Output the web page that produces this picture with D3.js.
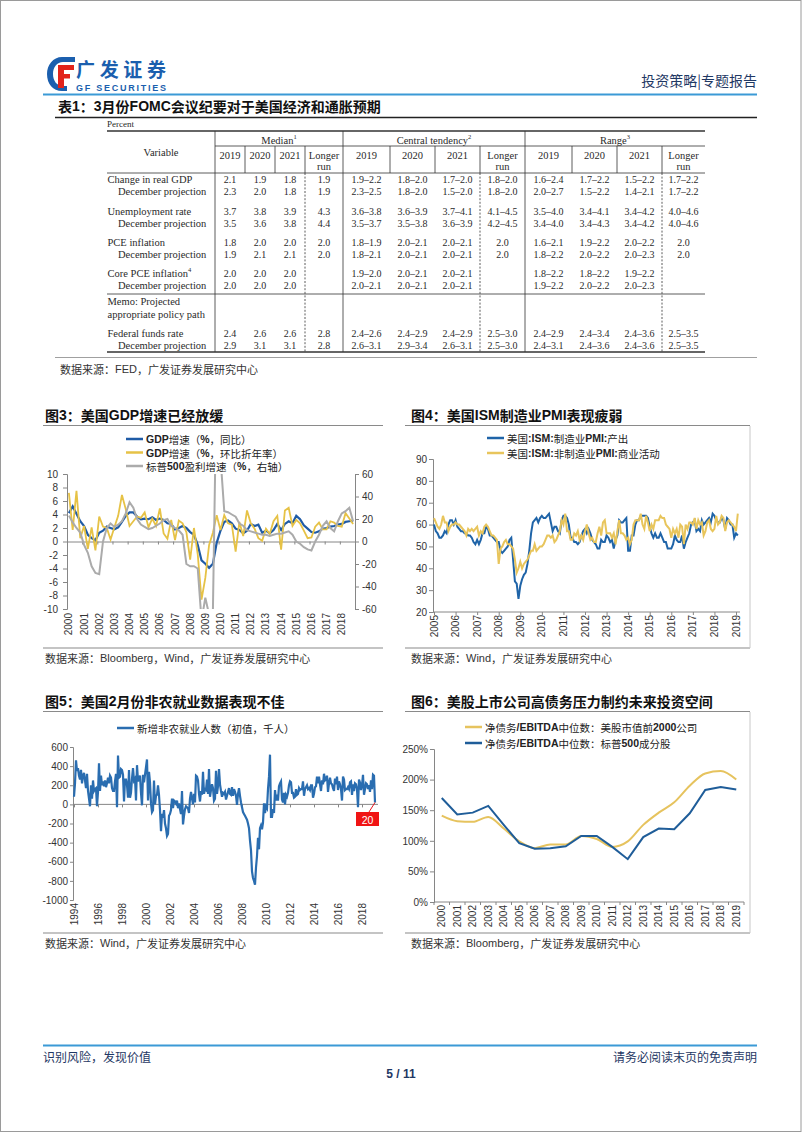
<!DOCTYPE html>
<html><head><meta charset="utf-8">
<script src="https://cdn.jsdelivr.net/npm/d3@7"></script>
<style>body{margin:0;background:#fff}svg{display:block}</style>
</head><body>
<svg id="page" width="802" height="1133"></svg>
<script>
// ---------------- DATA ----------------
const tblYears = ["2019", "2020", "2021"];
const tblLabels = ["Change in real GDP","December projection","Unemployment rate","December projection","PCE inflation","December projection","Core PCE inflation","December projection","Federal funds rate","December projection"];
const tblMedian = [
  ["2.1","1.9","1.8","1.9"],["2.3","2.0","1.8","1.9"],
  ["3.7","3.8","3.9","4.3"],["3.5","3.6","3.8","4.4"],
  ["1.8","2.0","2.0","2.0"],["1.9","2.1","2.1","2.0"],
  ["2.0","2.0","2.0",""],["2.0","2.0","2.0",""],
  ["2.4","2.6","2.6","2.8"],["2.9","3.1","3.1","2.8"]];
const tblCentral = [
  ["1.9–2.2","1.8–2.0","1.7–2.0","1.8–2.0"],["2.3–2.5","1.8–2.0","1.5–2.0","1.8–2.0"],
  ["3.6–3.8","3.6–3.9","3.7–4.1","4.1–4.5"],["3.5–3.7","3.5–3.8","3.6–3.9","4.2–4.5"],
  ["1.8–1.9","2.0–2.1","2.0–2.1","2.0"],["1.8–2.1","2.0–2.1","2.0–2.1","2.0"],
  ["1.9–2.0","2.0–2.1","2.0–2.1",""],["2.0–2.1","2.0–2.1","2.0–2.1",""],
  ["2.4–2.6","2.4–2.9","2.4–2.9","2.5–3.0"],["2.6–3.1","2.9–3.4","2.6–3.1","2.5–3.0"]];
const tblRange = [
  ["1.6–2.4","1.7–2.2","1.5–2.2","1.7–2.2"],["2.0–2.7","1.5–2.2","1.4–2.1","1.7–2.2"],
  ["3.5–4.0","3.4–4.1","3.4–4.2","4.0–4.6"],["3.4–4.0","3.4–4.3","3.4–4.2","4.0–4.6"],
  ["1.6–2.1","1.9–2.2","2.0–2.2","2.0"],["1.8–2.2","2.0–2.2","2.0–2.3","2.0"],
  ["1.8–2.2","1.8–2.2","1.9–2.2",""],["1.9–2.2","2.0–2.2","2.0–2.3",""],
  ["2.4–2.9","2.4–3.4","2.4–3.6","2.5–3.5"],["2.4–3.1","2.4–3.6","2.4–3.6","2.5–3.5"]];

// Fig 3 (quarterly 2000Q1-2018Q4)
const gdpYears = ["2000","2001","2002","2003","2004","2005","2006","2007","2008","2009","2010","2011","2012","2013","2014","2015","2016","2017","2018"];
const gdpYoY = [4.2,5.2,4.1,3.0, 2.3,1.0,0.5,0.2, 1.3,1.6,2.2,2.0, 1.8,2.1,2.9,3.8, 4.3,4.3,3.7,3.3, 3.4,3.3,3.6,3.2, 3.4,3.2,2.7,2.6, 1.8,2.0,2.3,2.0, 1.4,1.0,-0.5,-2.8, -3.3,-3.9,-3.3,-0.2, 1.6,2.9,3.1,2.7, 1.9,1.7,1.2,1.6, 2.6,2.3,2.5,1.3, 1.6,1.2,1.7,2.6, 1.7,2.6,3.0,2.7, 3.8,3.3,2.4,1.9, 1.4,1.3,1.5,1.9, 2.0,2.2,2.3,2.5, 2.6,2.9,3.0,3.1];
const gdpQoQ = [7.2,1.7,7.5,0.5, 2.3,-1.1,2.1,-1.3, 3.7,2.2,2.0,0.3, 2.1,3.8,6.9,4.8, 2.3,3.0,3.7,3.5, 4.3,2.1,3.4,2.3, 4.9,1.2,0.4,3.2, 0.2,3.1,2.7,1.4, -2.7,2.0,-1.9,-8.6, -5.4,-0.5,1.3,3.9, 1.7,3.9,2.7,2.5, -1.5,2.9,0.8,4.6, 2.7,1.9,0.5,0.1, 1.9,1.1,3.0,3.8, -1.2,4.6,5.0,2.3, 3.2,2.7,1.6,0.5, 0.6,2.2,2.8,1.8, 1.8,3.0,2.8,2.3, 2.2,4.2,3.4,2.6];
const spxEps = [23,17,12,8, -3,-10,-22,-28, -29,0,12,16, 13,15,18,25, 35,30,20,15, 13,11,12,14, 16,19,20,14, 12,10,6,-20, -22,-22,-24,-70, -50,-65,-62,150, 75,27,26,24, 22,16,14,10, 9,8,7,6, 6,5,6,7, 7,8,9,6, 0,-2,-5,-7, -8,0,6,14, 18,12,9,18, 25,27,30,18];

// Fig 4 (monthly 2005-01 .. 2019-02)
const pmiYears = ["2005","2006","2007","2008","2009","2010","2011","2012","2013","2014","2015","2016","2017","2018","2019"];
const ismMfgOutput = [
  60,57,56,54,54,55,57,56,60,62,62,60,
  62,59,58,57,57,56,56,55,55,54,52,51,
  53,51,53,56,56,59,58,55,55,54,53,52,
  52,48,47,48,49,50,53,54,44,34,33,26,
  32,35,37,38,42,48,56,61,62,63,61,63,
  64,63,63,64,65,61,57,59,59,57,56,62,
  64,64,63,60,54,54,52,52,51,52,55,57,
  58,56,58,56,53,52,51,49,49,53,52,52,
  55,54,52,53,49,53,55,62,61,61,62,63,
  48,48,55,55,60,62,62,64,64,64,64,63,
  59,56,54,56,54,54,56,54,52,52,49,49,
  49,51,55,53,52,52,55,49,52,54,56,60,
  61,62,57,58,57,62,60,61,62,63,61,65,
  64,62,61,61,63,62,58,63,62,60,60,54,
  56,55];
const ismNonMfg = [
  63,61,59,58,60,64,61,61,57,59,60,60,
  61,60,60,59,58,57,55,58,57,58,57,58,
  59,55,57,56,59,60,59,57,55,55,54,53,
  42,49,50,52,53,51,51,50,49,44,38,40,
  43,40,42,43,44,46,48,48,51,48,49,50,
  50,51,53,55,55,54,55,52,53,55,57,62,
  60,65,57,57,53,53,56,55,57,53,55,53,
  57,60,56,53,54,52,52,56,59,55,61,62,
  56,56,56,54,56,51,57,62,56,56,55,53,
  54,51,53,60,62,62,62,65,60,58,64,61,
  57,60,58,62,62,62,64,63,63,60,59,58,
  54,58,56,58,54,60,59,51,60,58,61,61,
  60,63,58,62,60,61,55,57,61,62,58,57,
  58,64,60,61,64,63,57,61,62,61,60,59,
  57,65];

// Fig 5 (monthly 1994-01 .. 2019-02)
const nfpYears = ["1994","1996","1998","2000","2002","2004","2006","2008","2010","2012","2014","2016","2018"];
const nfpChange = [
  80,220,460,350,380,300,260,360,220,300,330,250,
  170,320,140,60,-20,200,60,250,140,160,170,-20,
  130,430,140,300,200,240,190,250,180,220,280,220,
  300,280,170,140,140,240,320,-30,510,280,290,370,
  360,310,30,260,260,200,70,360,70,120,270,380,
  250,270,40,410,240,270,300,120,-10,310,230,310,
  390,470,40,340,230,10,-80,-60,250,0,90,100,
  200,100,-60,-280,-100,-140,-60,-200,-250,-330,-310,-120,
  -100,-60,60,-40,40,30,10,40,-40,10,-50,-100,
  140,-210,-120,-50,-20,-30,-40,-90,60,130,60,0,
  110,20,300,290,250,110,30,140,100,340,110,160,
  150,260,110,370,80,150,210,170,40,60,350,110,
  190,370,210,140,80,120,110,130,50,90,130,170,
  110,100,180,90,160,130,90,-5,110,170,90,20,
  -30,-80,-100,-120,-140,-160,-200,-250,-380,-480,-700,-770,
  -800,-840,-660,-540,-350,-470,-250,-220,-260,-190,10,-90,
  -20,-40,160,290,520,-130,-130,-50,-90,150,40,100,
  40,190,220,240,50,20,120,0,100,80,120,200,
  240,230,120,120,70,80,160,100,110,170,150,160,
  160,240,90,160,180,200,160,170,150,200,200,70,
  110,180,190,290,220,290,210,140,250,210,320,250,
  260,300,130,220,280,220,210,170,140,270,210,290,
  150,240,210,160,40,290,260,150,160,160,180,160,
  230,240,100,210,140,220,210,160,-30,260,230,150,
  200,310,100,160,220,210,160,200,130,250,160,310,
  300,20];

// Fig 6 (annual)
const debtYears = ["2000","2001","2002","2003","2004","2005","2006","2007","2008","2009","2010","2011","2012","2013","2014","2015","2016","2017","2018","2019"];
const debtTop2000 = [141,132,131,139,120,99,88,94,94,108,103,90,99,126,146,163,190,210,214,200];
const debtSpx500 = [170,143,146,157,126,96,87,88,91,108,108,90,70,106,120,119,145,183,188,184];

// ---------------- DRAWING ----------------
const SANS = "'Liberation Sans', Arial, 'Noto Sans CJK SC', sans-serif";
const CJK = "'Noto Sans CJK SC', 'Liberation Sans', sans-serif";
const SERIF = "'Liberation Serif', 'DejaVu Serif', serif";
const svg = d3.select("#page");

function mixed(g, x, y, str, o) {
  o = o || {};
  const t = g.append("text").attr("x", x).attr("y", y)
    .attr("font-size", o.size || 11).attr("fill", o.fill || "#222")
    .attr("text-anchor", o.anchor || "start").attr("dominant-baseline", "central");
  str.split(/([\x20-\x7E]+)/).filter(s => s.length).forEach(p => {
    const latin = /^[\x20-\x7E]+$/.test(p);
    t.append("tspan").text(p).attr("font-family", latin ? SANS : CJK)
      .attr("font-weight", (latin && o.boldLatin) ? "bold" : (o.weight || "normal"));
  });
  return t;
}
function line(g, x1, y1, x2, y2, c, w, dash) {
  const l = g.append("line").attr("x1", x1).attr("y1", y1).attr("x2", x2).attr("y2", y2)
    .attr("stroke", c).attr("stroke-width", w);
  if (dash) l.attr("stroke-dasharray", dash);
  return l;
}
function styleAxis(g) {
  g.selectAll("path.domain").attr("stroke", "#868686");
  g.selectAll(".tick line").attr("stroke", "#868686");
  g.selectAll("text").attr("font-family", SANS).attr("font-size", 10).attr("fill", "#333");
}
function rotLabels(g, items, y) {
  items.forEach(d => {
    g.append("text").attr("transform", `translate(${d.x},${y}) rotate(-90)`)
      .attr("text-anchor", "end").attr("dy", "0.35em")
      .attr("font-family", SANS).attr("font-size", 10).attr("fill", "#333").text(d.t);
  });
}
function legendRow(g, x0, y, color, label, w) {
  line(g, x0, y, x0 + 17, y, color, w || 2.5);
  mixed(g, x0 + 20, y, label, {size: 10.5, boldLatin: true, fill: "#222"});
}
const plain = d => String(d).replace("\u2212", "-");

// page border
svg.append("rect").attr("x", 0.5).attr("y", 0.5).attr("width", 800.5).attr("height", 1131)
  .attr("fill", "none").attr("stroke", "#9a9a9a");

// ---- header ----
const hdr = svg.append("g");
hdr.append("path").attr("d", "M75,57 L62,57 C53,57 47,65 47,74 C47,84 53,91 62,91 L67,91 L67,86 L63,86 C57,86 53,81 53,74 C53,67 57,62 63,62 L75,62 Z").attr("fill", "#1b5fae");
hdr.append("rect").attr("x", 58).attr("y", 65).attr("width", 6).attr("height", 23).attr("fill", "#e2231a");
hdr.append("rect").attr("x", 58).attr("y", 65).attr("width", 16).attr("height", 5).attr("fill", "#e2231a");
hdr.append("rect").attr("x", 58).attr("y", 74).attr("width", 12).attr("height", 4.5).attr("fill", "#e2231a");
hdr.append("text").attr("x", 76).attr("y", 77).attr("font-family", CJK).attr("font-weight", "bold")
  .attr("font-size", 19).attr("fill", "#1b5fae").attr("textLength", 90).text("广发证券");
hdr.append("text").attr("x", 76).attr("y", 91).attr("font-family", SANS).attr("font-weight", "bold")
  .attr("font-size", 9).attr("fill", "#1b5fae").attr("textLength", 90).text("GF SECURITIES");
hdr.append("text").attr("x", 757).attr("y", 80).attr("text-anchor", "end").attr("dominant-baseline", "central")
  .attr("font-family", CJK).attr("font-size", 14).attr("fill", "#1f3864").text("投资策略|专题报告");
line(hdr, 43, 94.5, 757, 94.5, "#3b9ad6", 2);

// ---- table ----
mixed(svg, 58, 106, "表1：3月份FOMC会议纪要对于美国经济和通胀预期", {size: 14, weight: "bold", boldLatin: true, fill: "#111"});
line(svg, 55, 117.5, 757, 117.5, "#222", 1.5);

const tbl = svg.append("g");
const TL = 107, TR = 705;
const groups = [
  {name: "Median", sup: "1", edges: [215, 245, 275, 305, 343], vals: tblMedian},
  {name: "Central tendency", sup: "2", edges: [343, 390, 435, 480, 525], vals: tblCentral},
  {name: "Range", sup: "3", edges: [525, 572, 617, 662, 705], vals: tblRange}];
const rowY = [179, 191.5, 211.5, 223.5, 242, 254, 273, 285.5, 333, 345];
const TC = "#2a2a2a";
function ttext(x, y, s, anchor, size) {
  return tbl.append("text").attr("x", x).attr("y", y).attr("text-anchor", anchor || "middle")
    .attr("dominant-baseline", "central").attr("font-family", SERIF)
    .attr("font-size", size || 10.5).attr("fill", TC).text(s);
}
ttext(107, 124, "Percent", "start", 9);
line(tbl, TL, 131, TR, 131, "#333", 1.3);
line(tbl, 215, 146, TR, 146, "#333", 0.8);
line(tbl, TL, 173, TR, 173, "#333", 0.8);
line(tbl, TL, 294, TR, 294, "#333", 0.8);
line(tbl, TL, 352, TR, 352, "#333", 1.3);
[215, 343, 525].forEach(x => line(tbl, x, 131, x, 352, "#333", 0.8));
ttext(161, 152, "Variable");
groups.forEach(g => {
  const t = ttext((g.edges[0] + g.edges[4]) / 2, 140, g.name);
  t.append("tspan").attr("font-size", 6.5).attr("dy", -4).text(g.sup);
  [1, 2, 3].forEach(k => line(tbl, g.edges[k], 146, g.edges[k], 173, "#333", 0.8));
  line(tbl, g.edges[3], 173, g.edges[3], 352, "#333", 0.8, "2,1.6");
  tblYears.forEach((yr, k) => ttext((g.edges[k] + g.edges[k + 1]) / 2, 155, yr));
  ttext((g.edges[3] + g.edges[4]) / 2, 155, "Longer");
  ttext((g.edges[3] + g.edges[4]) / 2, 166.5, "run");
  g.vals.forEach((row, r) => row.forEach((v, k) => {
    if (v) ttext((g.edges[k] + g.edges[k + 1]) / 2, rowY[r], v, "middle", 10);
  }));
});
tblLabels.forEach((s, r) => {
  const dec = s.startsWith("December");
  const t = ttext(dec ? 118 : 107.5, rowY[r], s, "start");
  if (s === "Core PCE inflation") t.append("tspan").attr("font-size", 6.5).attr("dy", -4).text("4");
});
ttext(107.5, 301, "Memo: Projected", "start");
ttext(107.5, 314, "appropriate policy path", "start");
line(svg, 55, 357.5, 757, 357.5, "#a0a0a0", 1);
mixed(svg, 60, 369, "数据来源：FED，广发证券发展研究中心", {size: 11, fill: "#333"});

// ---- chart frames ----
function frame(x0, x1, tx, ty, title, sy, src, rightBorder) {
  mixed(svg, tx, ty, title, {size: 14, weight: "bold", boldLatin: true, fill: "#111"});
  line(svg, x0, ty + 10.5, x1, ty + 10.5, "#8a8a8a", 1.2);
  line(svg, x0, sy - 10, x1, sy - 10, "#8a8a8a", 1.2);
  mixed(svg, tx, sy, src, {size: 11, fill: "#333"});
  if (rightBorder) line(svg, x1, ty + 11, x1, sy - 10, "#c8c8c8", 1);
}
frame(43, 383, 45, 415, "图3：美国GDP增速已经放缓", 658, "数据来源：Bloomberg，Wind，广发证券发展研究中心", false);
frame(405, 750, 411, 415, "图4：美国ISM制造业PMI表现疲弱", 658, "数据来源：Wind，广发证券发展研究中心", true);
frame(43, 383, 45, 701, "图5：美国2月份非农就业数据表现不佳", 943, "数据来源：Wind，广发证券发展研究中心", false);
frame(405, 750, 411, 701, "图6：美股上市公司高债务压力制约未来投资空间", 943, "数据来源：Bloomberg，广发证券发展研究中心", true);

// ---- Fig 3 ----
(function () {
  const g = svg.append("g");
  const xq = d3.scaleLinear().domain([0, 76]).range([67, 355]);
  const yL = d3.scaleLinear().domain([-10, 10]).range([609, 474]);
  const yR = d3.scaleLinear().domain([-60, 60]).range([609, 474]);
  g.append("clipPath").attr("id", "c3").append("rect").attr("x", 67).attr("y", 474).attr("width", 288).attr("height", 135);
  const aL = g.append("g").attr("transform", "translate(67,0)")
    .call(d3.axisLeft(yL).tickValues(d3.range(-10, 11, 2)).tickSize(4).tickPadding(5).tickFormat(plain));
  styleAxis(aL);
  const aR = g.append("g").attr("transform", "translate(355,0)")
    .call(d3.axisRight(yR).tickValues(d3.range(-60, 61, 20)).tickSize(4).tickPadding(3).tickFormat(plain));
  styleAxis(aR);
  const aX = g.append("g").attr("transform", `translate(0,${yL(0)})`)
    .call(d3.axisBottom(xq).tickValues(d3.range(0, 77, 4)).tickSize(3).tickFormat(""));
  styleAxis(aX);
  rotLabels(g, gdpYears.map((t, k) => ({t, x: xq(4 * k + 0.5)})), 613);
  const pl = g.append("g").attr("clip-path", "url(#c3)");
  const mk = (arr, y) => d3.line().x((d, i) => xq(i + 0.5)).y(d => y(d))(arr);
  pl.append("path").attr("d", mk(gdpYoY, yL)).attr("fill", "none").attr("stroke", "#1f5ba6").attr("stroke-width", 2.2);
  pl.append("path").attr("d", mk(gdpQoQ, yL)).attr("fill", "none").attr("stroke", "#e6c246").attr("stroke-width", 1.8);
  pl.append("path").attr("d", mk(spxEps, yR)).attr("fill", "none").attr("stroke", "#ababab").attr("stroke-width", 2);
  legendRow(g, 126, 439, "#1f5ba6", "GDP增速（%，同比）");
  legendRow(g, 126, 452.5, "#e6c246", "GDP增速（%，环比折年率）");
  legendRow(g, 126, 466, "#ababab", "标普500盈利增速（%，右轴）");
})();

// ---- Fig 4 ----
(function () {
  const g = svg.append("g");
  const x = d3.scaleLinear().domain([0, 168]).range([434, 736]);
  const y = d3.scaleLinear().domain([20, 90]).range([612, 459]);
  const aL = g.append("g").attr("transform", "translate(433,0)")
    .call(d3.axisLeft(y).tickValues(d3.range(20, 91, 10)).tickSize(4).tickPadding(2));
  styleAxis(aL);
  const aX = g.append("g").attr("transform", "translate(0,612)")
    .call(d3.axisBottom(x).tickValues(d3.range(0, 169, 12)).tickSize(3).tickFormat(""));
  aX.select("path.domain").attr("d", "M433,0H740");
  styleAxis(aX);
  rotLabels(g, pmiYears.map((t, k) => ({t, x: x(12 * k)})), 615);
  const mk = arr => d3.line().x((d, i) => x(i)).y(d => y(d))(arr);
  g.append("path").attr("d", mk(ismMfgOutput)).attr("fill", "none").attr("stroke", "#1f64a8").attr("stroke-width", 2);
  g.append("path").attr("d", mk(ismNonMfg)).attr("fill", "none").attr("stroke", "#e8c55c").attr("stroke-width", 2);
  legendRow(g, 487, 438, "#1f64a8", "美国:ISM:制造业PMI:产出");
  legendRow(g, 487, 453, "#e8c55c", "美国:ISM:非制造业PMI:商业活动");
})();

// ---- Fig 5 ----
(function () {
  const g = svg.append("g");
  const x = d3.scaleLinear().domain([0, 288]).range([74, 362]);
  const y = d3.scaleLinear().domain([-1000, 600]).range([900, 747]);
  const aL = g.append("g").attr("transform", "translate(73,0)")
    .call(d3.axisLeft(y).tickValues(d3.range(-1000, 601, 200)).tickSize(3).tickPadding(2).tickFormat(plain));
  styleAxis(aL);
  const aX = g.append("g").attr("transform", `translate(0,${y(0)})`)
    .call(d3.axisBottom(x).tickValues(d3.range(0, 301, 24)).tickSize(3).tickFormat(""));
  aX.select("path.domain").attr("d", "M73,0H378");
  styleAxis(aX);
  rotLabels(g, nfpYears.map((t, k) => ({t, x: x(24 * k)})), 903);
  g.append("path").attr("d", d3.line().x((d, i) => x(i)).y(d => y(d))(nfpChange))
    .attr("fill", "none").attr("stroke", "#2a6db0").attr("stroke-width", 2.2);
  const last = nfpChange.length - 1;
  line(g, x(last), y(nfpChange[last]), 369, 812, "#e8141c", 1);
  g.append("rect").attr("x", 356).attr("y", 812).attr("width", 23).attr("height", 14).attr("fill", "#f01414");
  g.append("text").attr("x", 367.5).attr("y", 819.5).attr("text-anchor", "middle").attr("dominant-baseline", "central")
    .attr("font-family", SANS).attr("font-size", 10.5).attr("fill", "#fff").text(String(nfpChange[last]));
  legendRow(g, 117, 728, "#2a6db0", "新增非农就业人数（初值，千人）");
})();

// ---- Fig 6 ----
(function () {
  const g = svg.append("g");
  const x = d3.scaleBand().domain(debtYears).range([434, 744]);
  const y = d3.scaleLinear().domain([0, 250]).range([902, 749]);
  const aL = g.append("g").attr("transform", "translate(434,0)")
    .call(d3.axisLeft(y).tickValues(d3.range(0, 251, 50)).tickSize(4).tickPadding(2).tickFormat(d => d + "%"));
  styleAxis(aL);
  const bounds = d3.range(0, debtYears.length + 1).map(i => 434 + i * x.bandwidth());
  const aX = g.append("g");
  line(aX, 434, 902, 744, 902, "#868686", 1);
  bounds.forEach(b => line(aX, b, 902, b, 905, "#868686", 1));
  rotLabels(g, debtYears.map(t => ({t, x: x(t) + x.bandwidth() / 2})), 905);
  const cx = d => x(d) + x.bandwidth() / 2;
  g.append("path").attr("d", d3.line().curve(d3.curveMonotoneX).x((d, i) => cx(debtYears[i])).y(d => y(d))(debtTop2000))
    .attr("fill", "none").attr("stroke", "#e6c35e").attr("stroke-width", 2);
  g.append("path").attr("d", d3.line().x((d, i) => cx(debtYears[i])).y(d => y(d))(debtSpx500))
    .attr("fill", "none").attr("stroke", "#1f5d99").attr("stroke-width", 2);
  legendRow(g, 465, 727, "#e6c35e", "净债务/EBITDA中位数：美股市值前2000公司");
  legendRow(g, 465, 743, "#1f5d99", "净债务/EBITDA中位数：标普500成分股");
})();

// ---- footer ----
line(svg, 43, 1045.5, 757, 1045.5, "#3b9ad6", 2);
svg.append("text").attr("x", 43).attr("y", 1056).attr("dominant-baseline", "central").attr("font-family", CJK)
  .attr("font-size", 12).attr("fill", "#1f3864").text("识别风险，发现价值");
svg.append("text").attr("x", 757).attr("y", 1056).attr("text-anchor", "end").attr("dominant-baseline", "central")
  .attr("font-family", CJK).attr("font-size", 12).attr("fill", "#1f3864").text("请务必阅读末页的免责声明");
svg.append("text").attr("x", 401).attr("y", 1074).attr("text-anchor", "middle").attr("dominant-baseline", "central")
  .attr("font-family", SANS).attr("font-weight", "bold").attr("font-size", 12).attr("fill", "#1f3864").text("5 / 11");
</script>
</body></html>
